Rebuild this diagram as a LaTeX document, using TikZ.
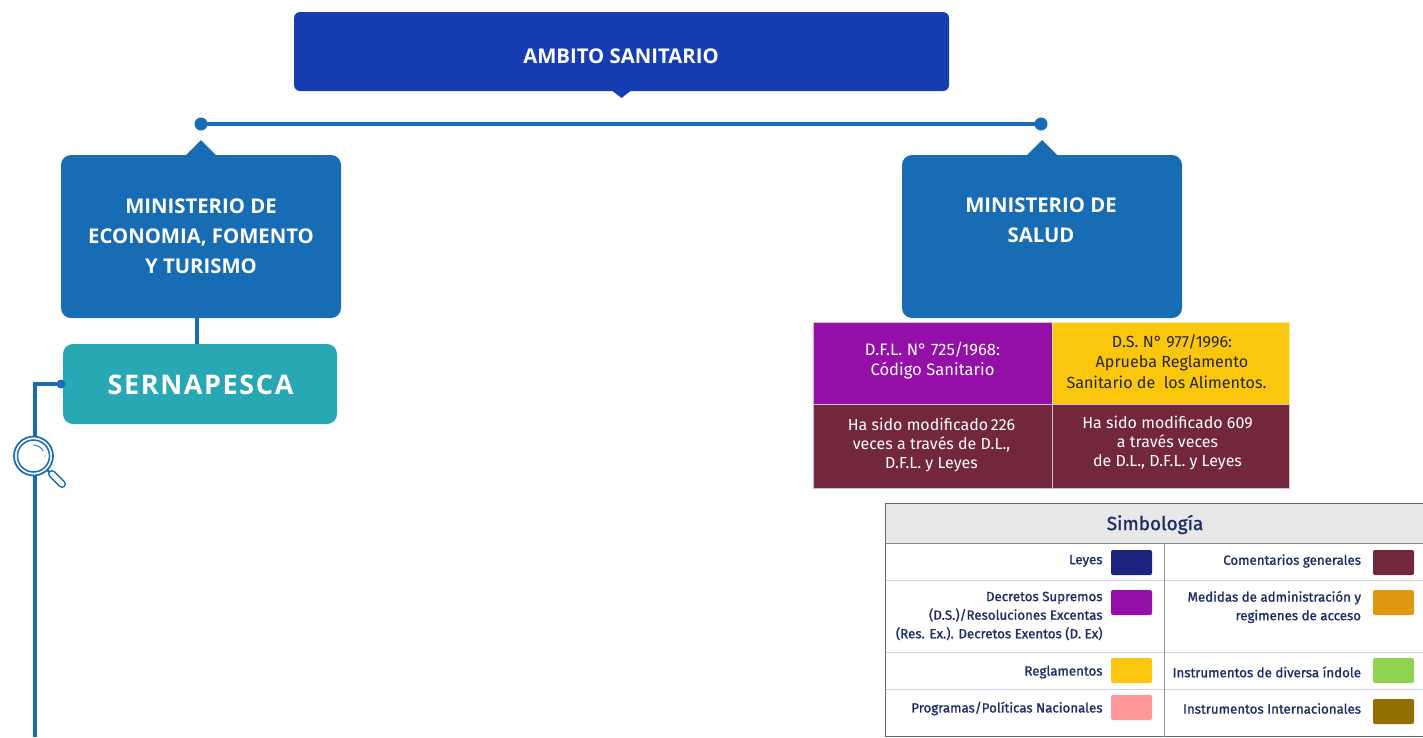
\documentclass[tikz,border=0pt]{standalone}
\usepackage{fontspec}
\setmainfont{Fira Sans}
\newfontfamily\headfont{Open Sans}
\newfontfamily\sernafont[LetterSpace=6]{Open Sans}
\newfontfamily\semifont[FakeBold=1.2]{Fira Sans}
\definecolor{royal}{HTML}{173DB2}
\definecolor{minblue}{HTML}{176CB4}
\definecolor{teal}{HTML}{28A8B5}
\definecolor{purp}{HTML}{940FA8}
\definecolor{yell}{HTML}{FAC60E}
\definecolor{wine}{HTML}{72273D}
\definecolor{navy}{HTML}{1A237E}
\definecolor{orang}{HTML}{E09812}
\definecolor{lgreen}{HTML}{90D34E}
\definecolor{pinkc}{HTML}{FF9897}
\definecolor{brownc}{HTML}{936E03}
\definecolor{legtext}{HTML}{1C2C66}
\definecolor{legline}{HTML}{5F6B78}
\definecolor{legrow}{HTML}{D0D3DC}
\tikzset{
 x=1pt,y=-1pt,
 box/.style={inner sep=0pt,outer sep=0pt,rounded corners=10pt},
 boxlab/.style={text=white,inner sep=0pt,align=center,font=\headfont\bfseries\fontsize{20.3}{30}\selectfont},
 cell/.style={inner sep=0pt,outer sep=0pt,minimum height=82pt,draw=white!70!wine,line width=.6pt},
 celllab/.style={inner sep=0pt,outer sep=0pt,align=center,text=white,font=\fontsize{16}{19}\selectfont},
 swatch/.style={inner sep=0pt,outer sep=0pt,minimum width=41pt,minimum height=25pt,rounded corners=2pt},
 leglab/.style={inner sep=0pt,outer sep=0pt,anchor=east,align=right,text=legtext,font=\semifont\fontsize{13.3}{18.6}\selectfont},
 dotn/.style={circle,fill=minblue,inner sep=0pt,outer sep=0pt},
}
\begin{document}
\begin{tikzpicture}
\useasboundingbox (0,0) rectangle (1423,737);
% top box
\node[box,rounded corners=6pt,fill=royal,minimum width=655pt,minimum height=79pt] (top) at (621.5,51.5) {};
\node[boxlab] (toplab) at (621,56) {AMBITO SANITARIO};
\fill[royal] ([xshift=-9pt]top.south) -- ([yshift=-7pt]top.south) -- ([xshift=9pt]top.south) -- cycle;
% bar
\node[dotn,minimum size=13pt] (dl) at (201,124) {};
\node[dotn,minimum size=13pt] (dr) at (1041,124) {};
\draw[minblue,line width=3.8pt] (dl.center) -- (dr.center);
% ministries
\node[box,fill=minblue,minimum width=280pt,minimum height=163pt] (econ) at (201,236.5) {};
\node[boxlab] (econlab) at (201,236.5) {MINISTERIO DE\\ECONOMIA, FOMENTO\\Y TURISMO};
\fill[minblue] ([xshift=-15pt]econ.north) -- ([yshift=15pt]econ.north) -- ([xshift=15pt]econ.north) -- cycle;
\node[box,fill=minblue,minimum width=280pt,minimum height=163pt] (salud) at (1042,236.5) {};
\node[boxlab] (saludlab) at (1041,220.5) {MINISTERIO DE\\SALUD};
\fill[minblue] ([xshift=-15pt]salud.north) -- ([yshift=15pt]salud.north) -- ([xshift=15pt]salud.north) -- cycle;
% sernapesca
\node[box,fill=teal,minimum width=274pt,minimum height=80pt] (serna) at (200,384) {};
\node[boxlab,font=\sernafont\bfseries\fontsize{27}{30}\selectfont] (sernalab) at (200.5,384.5) {SERNAPESCA};
\draw[minblue,line width=4pt] ([xshift=-4pt]econ.south) -- ([xshift=-3pt]serna.north);
\node[dotn,minimum size=9pt] (sd) at (61,384) {};
\coordinate (down) at (35,737);
\draw[minblue,line width=3.4pt] (sd.center) -| (down);
% magnifier
\draw[minblue,line width=2.2pt] (46,469) -- (53,475);
\draw[minblue,line width=8pt,line cap=round] (52,474) -- (62,484);
\draw[white,line width=4.8pt,line cap=round] (52,474) -- (62,484);
\filldraw[fill=white,draw=minblue,line width=1.7pt] (33.5,456) circle (19.5);
\draw[minblue,line width=1.5pt] (33.5,456) circle (16);
\draw[minblue,line width=.8pt] (33,445) arc (-90:-30:12);
\fill[minblue] (45,456) circle (.7);
% table
\node[cell,fill=purp,minimum width=239pt] (c11) at (932.5,363) {};
\node[cell,fill=yell,draw=white!60!yell,minimum width=237pt] (c12) at (1170.5,363) {};
\node[cell,fill=wine,minimum width=239pt,minimum height=84pt] (c21) at (932.5,446) {};
\node[cell,fill=wine,minimum width=237pt,minimum height=84pt] (c22) at (1170.5,446) {};
\node[celllab,font=\fontsize{16.6}{20}\selectfont] (t11) at (932.5,360.5) {D.F.L. N° 725/1968:\\Código Sanitario};
\node[celllab,text=black!85,font=\fontsize{16.1}{20.3}\selectfont] (t12) at (1172,361.5) {D.S. N° 977/1996:\\Aprueba Reglamento\\Sanitario de\ \ los Alimentos.\rule{11pt}{0pt}};
\node[celllab] (t21) at (931.5,444.5) {Ha sido modificado\,226\\veces a través de D.L.,\\D.F.L. y Leyes};
\node[celllab] (t22) at (1167.5,442.5) {Ha sido modificado 609\\a través veces\\de D.L., D.F.L. y Leyes};
% legend
\node[inner sep=0pt,outer sep=0pt,fill=black!9,minimum width=538pt,minimum height=40.5pt] (leghead) at (1154.5,523.5) {};
\node[inner sep=0pt,text=legtext,font=\semifont\fontsize{19}{22}\selectfont] (legtitle) at (1155,524.5) {Simbología};
\draw[legrow,line width=1.4pt] (885,580.5) -- (1423,580.5) (885,652.5) -- (1423,652.5) (885,689.5) -- (1423,689.5);
\draw[legline,line width=.9pt] (1423,503.5) -- (885.5,503.5) -- (885.5,736.5) -- (1423,736.5);
\draw[legline!80,line width=1.2pt] (885,543.5) -- (1423,543.5);
\draw[legline!70,line width=.7pt] (1164.5,543.5) -- (1164.5,736.5);
\node[swatch,fill=navy] (s1) at (1131.5,562.5) {};
\node[swatch,fill=purp] (s2) at (1131.5,602.5) {};
\node[swatch,fill=yell] (s3) at (1131.5,670.5) {};
\node[swatch,fill=pinkc] (s4) at (1131.5,707.5) {};
\node[swatch,fill=wine] (s5) at (1393.5,562.5) {};
\node[swatch,fill=orang] (s6) at (1393.5,602.5) {};
\node[swatch,fill=lgreen] (s7) at (1393.5,670.5) {};
\node[swatch,fill=brownc] (s8) at (1393.5,711.5) {};
\node[leglab] (l1) at (1102.5,561) {Leyes};
\node[leglab] (l2) at (1102.5,616) {Decretos Supremos\\(D.S.)/Resoluciones Excentas\\(Res. Ex.). Decretos Exentos (D. Ex)};
\node[leglab] (l3) at (1102.5,672) {Reglamentos};
\node[leglab] (l4) at (1102.5,708.5) {Programas/Políticas Nacionales};
\node[leglab] (l5) at (1361,561) {Comentarios generales};
\node[leglab] (l6) at (1361,607) {Medidas de administración y\\regimenes de acceso};
\node[leglab] (l7) at (1361,672) {Instrumentos de diversa índole};
\node[leglab] (l8) at (1361,708.5) {Instrumentos Internacionales};
\end{tikzpicture}
\end{document}
